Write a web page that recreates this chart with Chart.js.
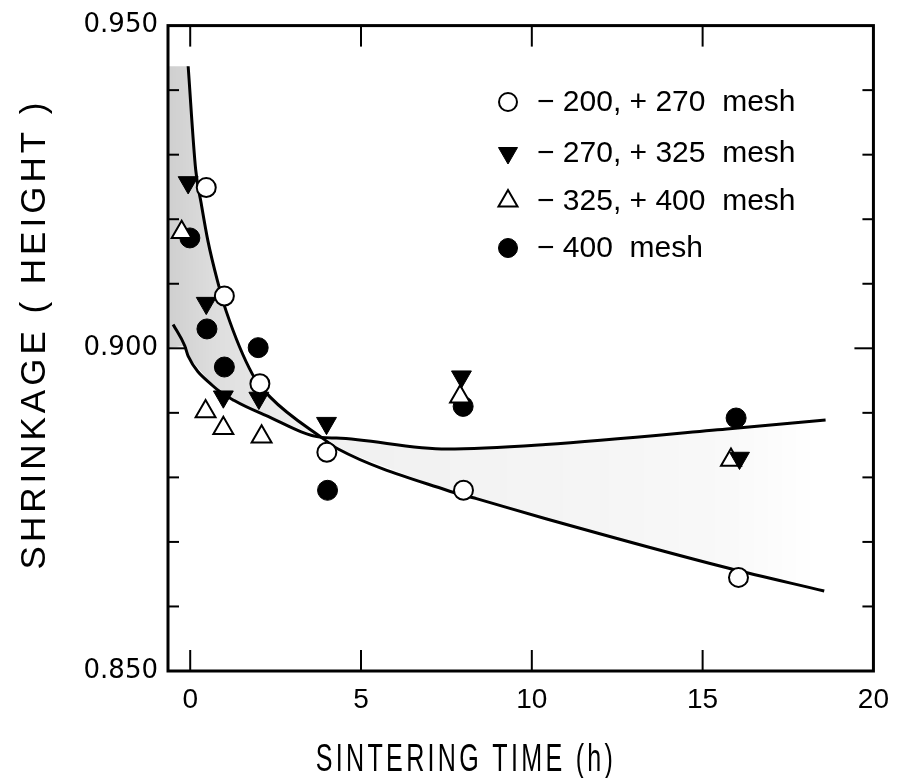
<!DOCTYPE html>
<html><head><meta charset="utf-8">
<script src="https://cdn.jsdelivr.net/npm/chart.js@4.4.1/dist/chart.umd.min.js"></script>
<style>html,body{margin:0;padding:0;background:#fff}canvas{display:block}</style>
</head><body>
<canvas id="c" width="901" height="778" style="width:901px;height:778px"></canvas>
<script>
// ---- data ----
const xTicks = [0, 5, 10, 15, 20];
const yTicks = [0.85, 0.90, 0.95];
const yTickLabels = ['0.850', '0.900', '0.950'];
const seriesLabels = ['\u2212 200, + 270  mesh', '\u2212 270, + 325  mesh', '\u2212 325, + 400  mesh', '\u2212 400  mesh'];

const mesh200_x = [0.47, 1.00, 2.04, 4.00, 8.00, 16.05];
const mesh200_y = [0.9249, 0.9081, 0.8945, 0.8839, 0.8780, 0.8645];
const mesh270_x = [-0.06, 0.47, 0.97, 2.01, 3.99, 7.94, 16.08];
const mesh270_y = [0.9257, 0.9070, 0.8925, 0.8923, 0.8884, 0.8956, 0.8830];
const mesh325_x = [-0.25, 0.45, 0.97, 2.09, 7.90, 15.83];
const mesh325_y = [0.9180, 0.8902, 0.8876, 0.8863, 0.8925, 0.8827];
const mesh400_x = [-0.01, 0.49, 1.00, 1.99, 4.02, 7.99, 15.98];
const mesh400_y = [0.9171, 0.9030, 0.8971, 0.9001, 0.8780, 0.8910, 0.8892];

const curveA_x = [-0.06, 0.16, 0.32, 0.52, 0.80, 1.05, 1.82, 2.35, 3.89, 4.33, 7.51, 8.38, 10.41, 15.71, 18.56];
const curveA_y = [0.9437, 0.9277, 0.9225, 0.9166, 0.9104, 0.9058, 0.8960, 0.8924, 0.8860, 0.8844, 0.8780, 0.8767, 0.8736, 0.8660, 0.8624];
const curveB_x = [-0.50, -0.16, -0.06, 0.66, 1.29, 2.21, 3.84, 4.28, 7.51, 10.41, 15.71, 18.60];
const curveB_y = [0.9037, 0.9004, 0.8988, 0.8942, 0.8919, 0.8896, 0.8862, 0.8861, 0.8844, 0.8851, 0.8875, 0.8889];
const bandEdge_x = [-0.65, -0.65];
const bandEdge_y = [0.9000, 0.9437];

// ---- build points ----
const pts = (xs, ys) => xs.map((x, i) => ({x: x, y: ys[i]}));
const curveA = pts(curveA_x, curveA_y);
const curveB = pts(curveB_x, curveB_y);
const band = curveA.concat(curveB.filter(p => p.x >= -0.16).reverse(), pts(bandEdge_x, bandEdge_y));

const X_MIN = -0.65, X_MAX = 20, Y_MIN = 0.85, Y_MAX = 0.95;

const markerStyles = [
  {pointStyle: 'circle', radius: 9.5, rotation: 0, bg: '#fff', bw: 2},
  {pointStyle: 'triangle', radius: 11.5, rotation: 180, bg: '#000', bw: 1},
  {pointStyle: 'triangle', radius: 11.5, rotation: 0, bg: '#fff', bw: 2},
  {pointStyle: 'circle', radius: 10, rotation: 0, bg: '#000', bw: 1}
];
const markerData = [pts(mesh200_x, mesh200_y), pts(mesh270_x, mesh270_y), pts(mesh325_x, mesh325_y), pts(mesh400_x, mesh400_y)];

const markerSets = markerData.map((d, i) => ({
  label: seriesLabels[i], data: d, showLine: false, order: 1,
  pointStyle: markerStyles[i].pointStyle, pointRadius: markerStyles[i].radius,
  pointRotation: markerStyles[i].rotation, pointBackgroundColor: markerStyles[i].bg,
  pointBorderColor: '#000', pointBorderWidth: markerStyles[i].bw, pointHoverRadius: markerStyles[i].radius
}));

const curveSets = [curveA, curveB].map((d, i) => ({
  label: 'curve' + i, data: d, showLine: true, order: 5, borderColor: '#000', borderWidth: 3,
  pointRadius: 0, fill: false, cubicInterpolationMode: 'monotone'
}));

const bandSet = {
  label: 'band', data: band, showLine: true, order: 10, borderWidth: 0, borderColor: 'rgba(0,0,0,0)',
  pointRadius: 0, fill: 'shape', tension: 0,
  backgroundColor: (c) => {
    const chart = c.chart;
    if (!chart.chartArea) return 'rgba(0,0,0,0.1)';
    const xs = chart.scales.x;
    const g = chart.ctx.createLinearGradient(xs.getPixelForValue(X_MIN), 0, xs.getPixelForValue(X_MAX), 0);
    g.addColorStop(0, 'rgba(0,0,0,0.19)');
    g.addColorStop(0.07, 'rgba(0,0,0,0.13)');
    g.addColorStop(0.2, 'rgba(0,0,0,0.06)');
    g.addColorStop(0.6, 'rgba(0,0,0,0.04)');
    g.addColorStop(0.8, 'rgba(0,0,0,0.025)');
    g.addColorStop(0.92, 'rgba(0,0,0,0)');
    return g;
  }
};

const framePlugin = {
  id: 'frame',
  afterDatasetsDraw(chart) {
    const {ctx, chartArea: {left, right, top, bottom}, scales: {x, y}} = chart;
    ctx.save();
    ctx.strokeStyle = '#000';
    ctx.lineWidth = 2;
    const ln = (a, b, c, d) => { ctx.beginPath(); ctx.moveTo(a, b); ctx.lineTo(c, d); ctx.stroke(); };
    for (let i = 1; i < 10; i++) {
      const v = Y_MIN + i * 0.01;
      const py = y.getPixelForValue(v);
      const len = (i % 5 === 0) ? 19 : 11;
      ln(left, py, left + len, py);
      ln(right, py, right - len, py);
    }
    for (const v of xTicks) {
      if (v <= X_MIN || v >= X_MAX) continue;
      const px = x.getPixelForValue(v);
      ln(px, bottom, px, bottom - 21);
      ln(px, top, px, top + 21);
    }
    ctx.lineWidth = 3;
    ctx.strokeRect(left, top, right - left, bottom - top);
    ctx.restore();
  },
  afterDraw(chart) {
    const {ctx} = chart;
    // legend
    const rows = [102, 153, 201, 248];
    const H = Chart.helpers;
    ctx.save();
    chart.data.datasets.slice(0, 4).forEach((ds, i) => {
      const m = markerStyles[i];
      ctx.fillStyle = m.bg; ctx.strokeStyle = '#000'; ctx.lineWidth = m.bw;
      const opts = {pointStyle: m.pointStyle, radius: m.radius - 0.5, rotation: m.rotation, borderWidth: m.bw};
      if (H && H.drawPoint) {
        H.drawPoint(ctx, opts, 508, rows[i]);
      }
      ctx.fillStyle = '#000';
      ctx.font = '30px "Liberation Sans", Arial, sans-serif';
      ctx.textAlign = 'left'; ctx.textBaseline = 'middle';
      ctx.fillText(ds.label, 537, rows[i] + 1);
    });
    ctx.restore();
    // x title
    ctx.save();
    ctx.fillStyle = '#000';
    ctx.font = '38px "Liberation Sans", Arial, sans-serif';
    ctx.textAlign = 'center'; ctx.textBaseline = 'alphabetic';
    ctx.translate(466, 771);
    ctx.scale(0.66, 1);
    ctx.letterSpacing = '5px';
    ctx.fillText('SINTERING TIME (h)', 0, 0);
    ctx.restore();
    // y title
    ctx.save();
    ctx.fillStyle = '#000';
    ctx.font = '35px "Liberation Sans", Arial, sans-serif';
    ctx.textAlign = 'center'; ctx.textBaseline = 'alphabetic';
    ctx.translate(45, 334);
    ctx.rotate(-Math.PI / 2);
    ctx.letterSpacing = '4px';
    ctx.fillText('SHRINKAGE ( HEIGHT )', 0, 0);
    ctx.restore();
  }
};

new Chart(document.getElementById('c'), {
  type: 'scatter',
  data: {datasets: markerSets.concat(curveSets, [bandSet])},
  options: {
    responsive: false, animation: false, devicePixelRatio: 1,
    layout: {padding: {top: 24, right: 19, left: 0, bottom: 0}},
    plugins: {legend: {display: false}, tooltip: {enabled: false}},
    scales: {
      x: {
        type: 'linear', min: X_MIN, max: X_MAX,
        afterBuildTicks: s => { s.ticks = xTicks.map(v => ({value: v})); },
        afterFit: s => { s.height = 107; },
        ticks: {color: '#000', padding: 12, maxRotation: 0, autoSkip: false,
          font: {family: '"Liberation Sans", Arial, sans-serif', size: 28}},
        grid: {display: false, drawTicks: false}, border: {display: false}
      },
      y: {
        type: 'linear', min: Y_MIN, max: Y_MAX,
        afterBuildTicks: s => { s.ticks = yTicks.map(v => ({value: v})); },
        afterFit: s => { s.width = 168; },
        ticks: {color: '#000', padding: 10, callback: (v, i) => yTickLabels[i],
          font: {family: '"DejaVu Sans", sans-serif', size: 26}},
        grid: {display: false, drawTicks: false}, border: {display: false}
      }
    }
  },
  plugins: [framePlugin]
});
</script>
</body></html>
